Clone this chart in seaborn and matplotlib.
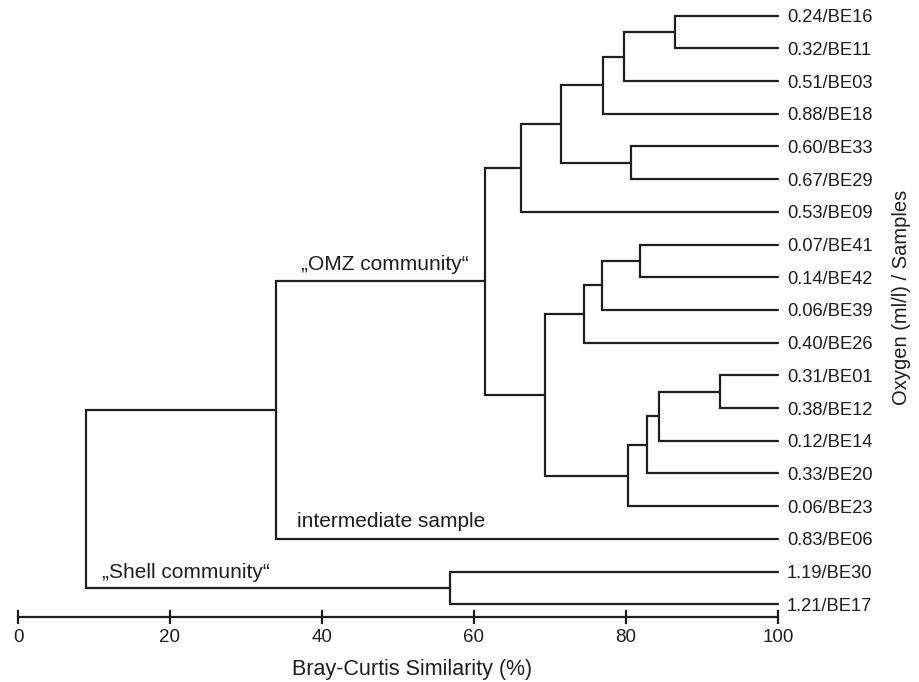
import numpy as np
import pandas as pd
import matplotlib
matplotlib.use("Agg")
import matplotlib.pyplot as plt
import seaborn as sns

# Leaves from top to bottom: oxygen (ml/l) / sample
leaf_labels = ["0.24/BE16", "0.32/BE11", "0.51/BE03", "0.88/BE18", "0.60/BE33",
               "0.67/BE29", "0.53/BE09", "0.07/BE41", "0.14/BE42", "0.06/BE39",
               "0.40/BE26", "0.31/BE01", "0.38/BE12", "0.12/BE14", "0.33/BE20",
               "0.06/BE23", "0.83/BE06", "1.19/BE30", "1.21/BE17"]

# Merges: child a, child b (leaf index or earlier node id), similarity (%)
merge_a = [0, 19, 20, 4, 21, 23, 7, 25, 26, 11, 28, 29, 30, 27, 24, 33, 17, 34]
merge_b = [1, 2, 3, 5, 22, 6, 8, 9, 10, 12, 13, 14, 15, 31, 32, 16, 18, 35]
merge_sim = [86.5, 79.7, 77.0, 80.6, 71.5, 66.2, 81.9, 76.9, 74.5, 92.4,
             84.3, 82.8, 80.2, 69.3, 61.4, 33.9, 56.8, 8.9]

x_ticks = [0, 20, 40, 60, 80, 100]

# build the dendrogram elbows
n_leaves = len(leaf_labels)
pos = {i: (100.0, float(i)) for i in range(n_leaves)}
rows = []
for k, (a, b, s) in enumerate(zip(merge_a, merge_b, merge_sim)):
    xa, ya = pos[a]
    xb, yb = pos[b]
    for px, py in [(xa, ya), (s, ya), (s, yb), (xb, yb)]:
        rows.append({"seg": k, "x": px, "y": py})
    pos[n_leaves + k] = (s, (ya + yb) / 2)
seg_df = pd.DataFrame(rows)

sns.set_theme(style="white")
plt.rcParams["font.family"] = ["Liberation Sans", "DejaVu Sans"]
ink = "#1e1e1e"

fig = plt.figure(figsize=(9.2, 6.82), dpi=100)
ax = fig.add_axes([18 / 920, 65 / 682, 760 / 920, 617 / 682])

sns.lineplot(data=seg_df, x="x", y="y", units="seg", estimator=None, sort=False,
             color=ink, linewidth=1.6, ax=ax, legend=False)
for ln in ax.lines:
    ln.set_clip_on(False)
    ln.set_solid_joinstyle("miter")

ax.set_xlim(0, 100)
ax.set_ylim(18.39, -0.48)

for sp in ["top", "right", "left"]:
    ax.spines[sp].set_visible(False)
ax.spines["bottom"].set_color(ink)
ax.spines["bottom"].set_linewidth(1.6)

ax.set_xticks(x_ticks)
ax.set_xticklabels([str(t) for t in x_ticks], fontsize=13.5, color=ink)
ax.tick_params(axis="x", direction="inout", length=9.5, width=1.6, color=ink,
               pad=4, bottom=True)

ax.set_yticks(range(n_leaves))
ax.set_yticklabels(leaf_labels, fontsize=13.2, color=ink)
ax.yaxis.tick_right()
ax.tick_params(axis="y", length=0, pad=6.5)
ax.set_ylabel("")

ax.set_xlabel("Bray-Curtis Similarity (%)", fontsize=15.5, color=ink)
ax.xaxis.set_label_coords(0.518, -0.068)

fig.text(902 / 920, 1 - 297 / 682, "Oxygen (ml/l) / Samples", rotation=90,
         ha="center", va="center", fontsize=14.5, color=ink)

# group annotations, placed relative to their nodes
_, omz_y = pos[n_leaves + 14]
cut_x, _ = pos[n_leaves + 15]
ax.text(cut_x + 3.4, omz_y - 0.35, "\u201eOMZ community\u201c", fontsize=15,
        color=ink, va="baseline", ha="left")
ax.text(cut_x + 2.8, 15.65, "intermediate sample", fontsize=15,
        color=ink, va="baseline", ha="left")
_, shell_y = pos[n_leaves + 16]
root_x, _ = pos[n_leaves + 17]
ax.text(root_x + 2.1, shell_y - 0.3, "\u201eShell community\u201c", fontsize=15,
        color=ink, va="baseline", ha="left")

fig.savefig("out.png", dpi=100)
